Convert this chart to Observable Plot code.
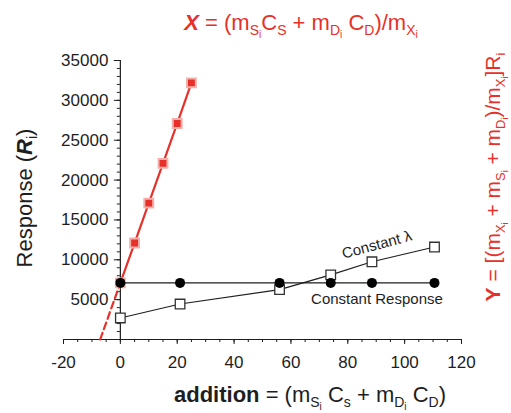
<!DOCTYPE html>
<html>
<head>
<meta charset="utf-8">
<script src="https://cdn.jsdelivr.net/npm/d3@7"></script>
<script src="https://cdn.jsdelivr.net/npm/@observablehq/plot@0.6"></script>
<style>
  html, body { margin: 0; padding: 0; background: #fff; }
  svg text { white-space: pre; }
</style>
</head>
<body>
<div id="chart"></div>
<script>
// ---- data ----
const redX = [0, 5, 10, 15, 20, 25];
const redY = [7100, 12100, 17100, 22100, 27100, 32200];
const redInterceptX = -7.1;            // dashed extrapolation reaches R = 0 here
const addX = [0, 21, 56, 74, 88.5, 110.5];
const constResponseY = [7100, 7100, 7100, 7100, 7100, 7100];
const constLambdaY = [2700, 4450, 6250, 8100, 9750, 11600];
const xTicks = [-20, 0, 20, 40, 60, 80, 100, 120];
const yTicks = [5000, 10000, 15000, 20000, 25000, 30000, 35000];
const labelResponse = "Constant Response";
const labelLambda = "Constant λ";

// ---- tables ----
const red = redX.map((x, i) => ({x, y: redY[i]}));
const redDash = [{x: redInterceptX, y: 0}, red[0]];
const resp = addX.map((x, i) => ({x, y: constResponseY[i]}));
const lam = addX.map((x, i) => ({x, y: constLambdaY[i]}));

const RED = "#e8302a";
const INK = "#1e1e1e";
const W = 511, H = 413;
const mL = 63, mR = 50, mT = 60, mB = 74;
const xDomain = [-20, 120];
const yDomain = [0, 35000];
const yAxisDx = (0 - xDomain[0]) / (xDomain[1] - xDomain[0]) * (W - mL - mR);

const xMinor = d3.range(-20, 121, 5);
const yMinor = d3.range(1000, 35001, 1000);
const blank = () => "";

const chart = Plot.plot({
  width: W, height: H,
  marginLeft: mL, marginRight: mR, marginTop: mT, marginBottom: mB,
  x: {domain: xDomain},
  y: {domain: yDomain},
  style: {fontFamily: "'Liberation Sans', Arial, sans-serif", color: INK, background: "white"},
  marks: [
    // axes
    Plot.ruleY([0], {stroke: INK, strokeWidth: 1.2}),
    Plot.axisX(xMinor, {anchor: "bottom", tickSize: 3, label: null, tickFormat: blank, fill: "none", stroke: INK}),
    Plot.axisX(xTicks, {anchor: "bottom", tickSize: 5, tickPadding: 11, fontSize: 17, label: null, stroke: INK, fill: INK, tickFormat: d => String(d)}),
    Plot.ruleX([0], {y1: yDomain[0], y2: yDomain[1], stroke: INK, strokeWidth: 1.2}),
    Plot.axisY(yMinor, {anchor: "left", dx: yAxisDx, tickSize: 3, label: null, tickFormat: blank, fill: "none", stroke: INK}),
    Plot.axisY(yTicks, {anchor: "left", dx: yAxisDx, tickSize: 6, tickPadding: 6, fontSize: 17, label: null, stroke: INK, fill: INK, tickFormat: d => String(d)}),

    // red standard-addition line
    Plot.line(redDash, {x: "x", y: "y", stroke: RED, strokeWidth: 2.2, strokeDasharray: "7,4"}),
    Plot.line(red, {x: "x", y: "y", stroke: RED, strokeWidth: 2.2}),
    Plot.dot(red, {x: "x", y: "y", symbol: "square", r: 5, fill: RED, stroke: "#f5b0ac", strokeWidth: 2}),

    // constant lambda
    Plot.line(lam, {x: "x", y: "y", stroke: INK, strokeWidth: 1.2}),
    Plot.dot(lam, {x: "x", y: "y", symbol: "square", r: 5.4, fill: "white", stroke: "#333", strokeWidth: 1.3}),

    // constant response
    Plot.line(resp, {x: "x", y: "y", stroke: INK, strokeWidth: 1.2}),
    Plot.dot(resp, {x: "x", y: "y", r: 5, fill: "#000"}),

    // annotations anchored on the 5th point of each series
    Plot.text([lam[4]], {x: "x", y: "y", text: () => labelLambda, dx: 5, dy: -17, rotate: -15, fontSize: 15, fill: INK}),
    Plot.text([resp[4]], {x: "x", y: "y", text: () => labelResponse, dx: 5, dy: 16, fontSize: 15, fill: INK})
  ]
});
document.getElementById("chart").appendChild(chart);

// ---- rich text labels with subscripts ----
const svg = d3.select(chart);
function rich({x, y, rotate = 0, anchor = "middle", fill, size = 22, parts}) {
  const SIZES = [size, Math.round(size * 0.64), Math.round(size * 0.45)];
  const SHIFT = [0, 5, 8];
  const t = svg.append("text")
    .attr("transform", `translate(${x},${y}) rotate(${rotate})`)
    .attr("text-anchor", anchor)
    .attr("fill", fill)
    .attr("font-family", "'Liberation Sans', Arial, sans-serif");
  let cur = 0;
  for (const [str, level, style] of parts) {
    const ts = t.append("tspan")
      .attr("font-size", SIZES[level])
      .attr("dy", SHIFT[level] - cur)
      .text(str);
    cur = SHIFT[level];
    if (style === "b") ts.attr("font-weight", "bold");
    if (style === "bi") ts.attr("font-weight", "bold").attr("font-style", "italic");
  }
  return t;
}

// top: X = (m_Si C_S + m_Di C_D)/m_Xi
rich({x: 301, y: 30, fill: RED, parts: [
  ["X", 0, "bi"], [" = (m", 0], ["S", 1], ["i", 2], ["C", 0], ["S", 1], [" + m", 0], ["D", 1], ["i", 2],
  [" C", 0], ["D", 1], [")/m", 0], ["X", 1], ["i", 2]
]});

// right: Y = [(m_X + m_S + m_D)/m_X]R_i
rich({x: 500, y: 177, rotate: -90, fill: RED, size: 21, parts: [
  ["Y", 0, "b"], [" = [(m", 0], ["X", 1], ["i", 2], [" + m", 0], ["S", 1], ["i", 2], [" + m", 0], ["D", 1], ["i", 2],
  [")/m", 0], ["X", 1], ["i", 2], ["]R", 0], ["i", 1]
]});

// left: Response (R_i)
rich({x: 32, y: 198, rotate: -90, fill: INK, parts: [
  ["Response (", 0], ["R", 0, "bi"], ["i", 1], [")", 0]
]});

// bottom: addition = (m_Si C_s + m_Di C_D)
rich({x: 310, y: 402, fill: INK, parts: [
  ["addition", 0, "b"], [" = (m", 0], ["S", 1], ["i", 2], [" C", 0], ["s", 1], [" + m", 0], ["D", 1], ["i", 2],
  [" C", 0], ["D", 1], [")", 0]
]});
</script>
</body>
</html>
